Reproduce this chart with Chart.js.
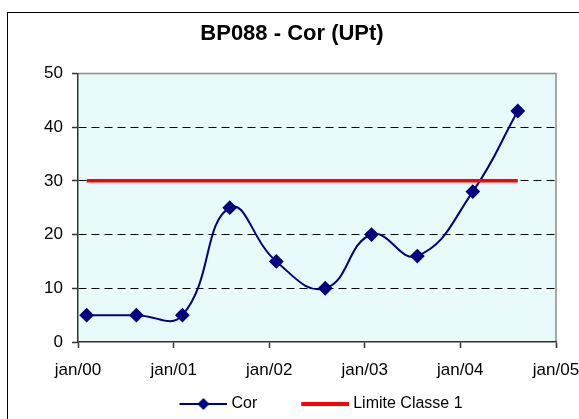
<!DOCTYPE html>
<html>
<head>
<meta charset="utf-8">
<script src="https://cdn.jsdelivr.net/npm/chart.js@4.4.0/dist/chart.umd.min.js"></script>
<style>
html,body{margin:0;padding:0;overflow:hidden;background:#fff;}
#wrap{width:646px;height:422px;}
</style>
</head>
<body>
<div id="wrap"><canvas id="chart-1" width="646" height="422"></canvas></div>
<script>
// data
const dates = ['2000-02-03','2000-08-11','2001-02-03','2001-08-03','2002-01-28','2002-08-03','2003-01-27','2003-07-21','2004-02-18','2004-08-08'];
const cor = [5, 5, 5, 25, 15, 10, 20, 16, 28, 43];
const limiteClasse1 = [30, 30, 30, 30, 30, 30, 30, 30, 30, 30];
const yearTicks = ['2000-01-01','2001-01-01','2002-01-01','2003-01-01','2004-01-01','2005-01-01'];
const tickLabels = ['jan/00','jan/01','jan/02','jan/03','jan/04','jan/05'];

const FONT = "'Liberation Sans', Arial, sans-serif";
const t = d => new Date(d).getTime();

// legend symbol: 48px line sitting in the right part of an 82px wide image
function legendIcon(color, lw, marker){
  const c = document.createElement('canvas');
  c.width = 82; c.height = 14;
  const g = c.getContext('2d');
  g.strokeStyle = color; g.lineWidth = lw;
  g.beginPath(); g.moveTo(34, 7); g.lineTo(82, 7); g.stroke();
  if(marker){
    g.fillStyle = color;
    g.beginPath(); g.moveTo(58, 1); g.lineTo(64, 7); g.lineTo(58, 13); g.lineTo(52, 7); g.closePath(); g.fill();
  }
  return c;
}

const frame = {
  id: 'frame',
  afterLayout(chart){
    // legend sits a bit right of the title in the original
    chart.legend.left += 14;
    chart.legend.right += 14;
  },
  beforeDraw(chart){
    const {ctx, chartArea: a} = chart;
    ctx.save();
    ctx.fillStyle = '#fff';
    ctx.fillRect(0, 0, chart.width, chart.height);
    ctx.strokeStyle = '#000'; ctx.lineWidth = 1;
    ctx.strokeRect(7.5, 12.5, chart.width + 20, chart.height + 20);
    ctx.fillStyle = 'rgb(233,250,250)';
    ctx.fillRect(a.left, a.top, a.right - a.left, a.bottom - a.top);
    ctx.strokeStyle = '#8c8c8c'; ctx.lineWidth = 1.5;
    ctx.beginPath();
    ctx.moveTo(a.left, a.top); ctx.lineTo(a.right, a.top); ctx.lineTo(a.right, a.bottom);
    ctx.stroke();
    ctx.restore();
  }
};

const ctx = document.getElementById('chart-1');
new Chart(ctx, {
  type: 'line',
  data: {
    datasets: [{
      label: 'Cor',
      data: dates.map((d, i) => ({x: t(d), y: cor[i]})),
      borderColor: '#000080',
      backgroundColor: '#000080',
      borderWidth: 2,
      pointStyle: 'rectRot',
      pointRadius: 6,
      pointHoverRadius: 6,
      tension: 0.45,
      order: 2
    }, {
      label: 'Limite Classe 1',
      data: dates.map((d, i) => ({x: t(d), y: limiteClasse1[i]})),
      borderColor: '#ff0000',
      backgroundColor: '#ff0000',
      borderWidth: 3.5,
      pointRadius: 0,
      tension: 0,
      order: 1
    }]
  },
  options: {
    responsive: false,
    devicePixelRatio: 1,
    animation: false,
    layout: {padding: {left: 28, right: 90, top: 0, bottom: 0}},
    plugins: {
      title: {
        display: true,
        text: 'BP088 - Cor (UPt)',
        color: '#000',
        font: {family: FONT, size: 22, weight: 'bold'},
        padding: {top: 21, bottom: 26}
      },
      legend: {
        position: 'bottom',
        labels: {
          font: {family: FONT, size: 16},
          color: '#000',
          usePointStyle: true,
          pointStyleWidth: 74,
          padding: 14,
          generateLabels: chart => [
            {text: 'Cor', pointStyle: legendIcon('#000080', 2, true), fontColor: '#000', datasetIndex: 0, hidden: false, lineWidth: 0},
            {text: 'Limite Classe 1', pointStyle: legendIcon('#ff0000', 4, false), fontColor: '#000', datasetIndex: 1, hidden: false, lineWidth: 0}
          ]
        }
      },
      tooltip: {enabled: false}
    },
    scales: {
      x: {
        type: 'linear',
        min: t(yearTicks[0]),
        max: t(yearTicks[yearTicks.length - 1]),
        afterBuildTicks: s => { s.ticks = yearTicks.map(d => ({value: t(d)})); },
        afterFit: s => { s.height = 40; s.paddingLeft = 0; s.paddingRight = 0; },
        ticks: {
          autoSkip: false, maxRotation: 0, padding: 12,
          color: '#000',
          font: {family: FONT, size: 17},
          callback: (v, i) => tickLabels[i]
        },
        grid: {drawOnChartArea: false, tickLength: 6, tickColor: '#333', tickWidth: 1.5},
        border: {color: '#333', width: 1.5}
      },
      y: {
        min: 0, max: 50,
        afterFit: s => { s.width = 50; s.paddingTop = 0; s.paddingBottom = 0; },
        ticks: {
          stepSize: 10, padding: 9,
          color: '#000',
          font: {family: FONT, size: 17}
        },
        grid: {
          color: c => (c.tick && (c.tick.value === 0 || c.tick.value === 50)) ? 'rgba(0,0,0,0)' : '#000',
          lineWidth: 1,
          tickLength: 6, tickColor: '#333', tickWidth: 1.5
        },
        border: {color: '#333', width: 1.5, dash: [8, 5]}
      }
    }
  },
  plugins: [frame]
});
</script>
</body>
</html>
